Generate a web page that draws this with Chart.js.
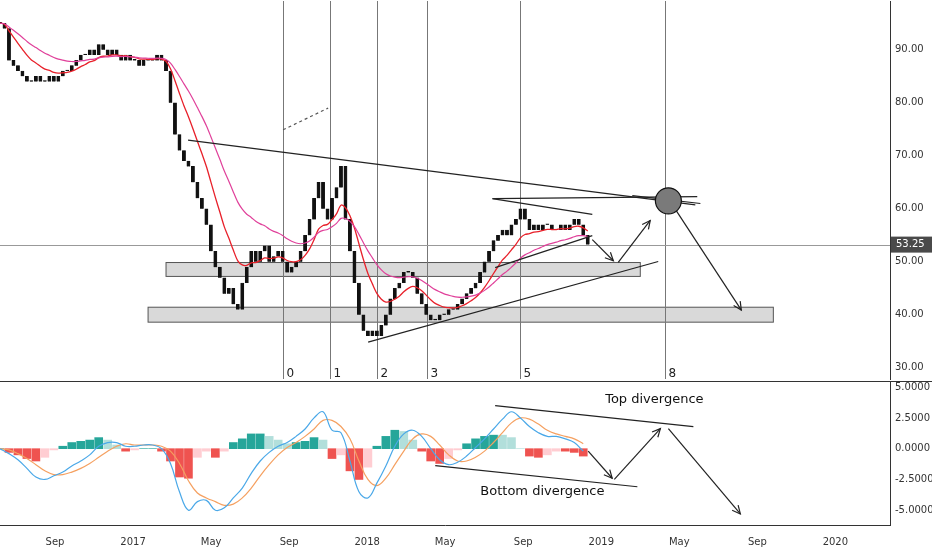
<!DOCTYPE html>
<html>
<head>
<meta charset="utf-8">
<script src="https://cdn.jsdelivr.net/npm/chart.js@4.4.0/dist/chart.umd.min.js"></script>
<style>
  body { margin: 0; background: #fff; overflow: hidden; }
  #main { position: absolute; left: 0; top: -10px; width: 932px; height: 400px; }
  #macd { position: absolute; left: 0; top: 370px; width: 932px; height: 180px; }
</style>
</head>
<body>
<div id="main"><canvas id="mainChart"></canvas></div>
<div id="macd"><canvas id="macdChart"></canvas></div>
<script>
// --- DATA ---
// x axis is in months counted from Jan 2016 (0 = Jan 2016)
const X_MIN = 5.18, X_MAX = 50.8;
const START_MONTH = 5.18;      // first weekly candle (early Jun 2016)
const WEEK = 12 / 52.18;       // one week in months
const MONTH_NAMES = ['Jan','Feb','Mar','Apr','May','Jun','Jul','Aug','Sep','Oct','Nov','Dec'];
const PRICE_TICKS = [30, 40, 50, 60, 70, 80, 90];
const MACD_TICKS = [-5, -2.5, 0, 2.5, 5];

// weekly closes
const closes = [
  95,94,88,87,86,85,84,84,85,84,
  84,85,84,85,86,86,87,88,89,89,
  90,89,91,90,89,90,89,88,89,88,
  88,87,88,88,88,89,88,86,80,74,
  71,69,68,65,62,60,57,52,49,47,
  44,45,42,41,46,49,52,50,52,53,
  50,51,52,50,48,49,50,52,55,58,
  62,65,60,58,62,64,68,58,52,46,
  40,37,36,37,36,38,40,43,45,46,
  48,48,47,44,42,40,39,39,40,40,
  41,41,42,43,44,45,46,48,50,52,
  54,55,56,55,57,58,60,58,56,57,
  56,57,57,56,56,57,56,57,58,57,55,53.25
];
const LAST_PRICE = 53.25;

// MACD pane, one value every two weeks
const macdLine = [0,-0.4,-0.9,-1.6,-2.3,-2.5,-2.2,-1.9,-1.4,-1.0,
  -0.5,0.2,0.5,0.5,0.2,0.2,0.3,0.3,0.0,-1.2,
  -3.5,-5.0,-4.3,-4.2,-5.0,-4.8,-4.0,-3.2,-2.0,-1.0,
  -0.3,0.2,0.5,1.0,1.6,2.5,3.0,1.5,1.3,-1.0,
  -3.5,-4.0,-2.8,-1.4,0.2,1.2,1.5,1.0,0.0,-0.9,
  -1.3,-1.1,-0.6,0.1,0.8,1.6,2.4,3.0,2.5,1.8,
  1.3,1.0,1.0,0.8,0.5,-0.2];
const signalLine = [0,-0.1,-0.4,-0.8,-1.3,-1.8,-2.1,-2.1,-1.9,-1.6,
  -1.2,-0.7,-0.2,0.2,0.4,0.3,0.3,0.3,0.2,-0.2,
  -1.2,-2.6,-3.6,-4.0,-4.3,-4.6,-4.5,-4.0,-3.2,-2.2,
  -1.3,-0.5,0.1,0.5,1.0,1.6,2.3,2.3,1.8,0.8,
  -1.0,-2.5,-3.0,-2.4,-1.3,-0.2,0.8,1.2,1.0,0.3,
  -0.5,-1.0,-1.0,-0.7,-0.2,0.5,1.3,2.1,2.5,2.4,
  2.0,1.5,1.2,1.0,0.8,0.4];

// drawings, in [month, price] / [month, macd]
const wavePoints = [19.69, 22.10, 24.51, 27.08, 31.85, 39.28];
const waveLabels = ['0', '1', '2', '3', '5', '8'];
const trendLines = [
  [[14.82, 72.94], [40.82, 60.75]],
  [[24.05, 34.87], [38.92, 50.06]],
  [[30.41, 61.94], [35.54, 58.94]],
  [[30.56, 48.9], [35.54, 54.94]],
  [[30.46, 61.94], [40.92, 62.3]],
  [[37.59, 62.5], [41.08, 61.0]]
];
const dashedLine = [[19.69, 74.9], [22.0, 79.0]];
const zones = [
  [[13.69, 49.87], [38.00, 47.25]],
  [[12.77, 41.44], [44.82, 38.62]]
];
const circleAt = [39.44, 61.5];
const priceArrows = [
  [[35.54, 54.2], [36.62, 50.2]],
  [[36.87, 49.9], [38.51, 57.8]],
  [[39.85, 59.6], [43.18, 40.9]]
];
const macdTrend = [
  [[30.56, 3.5], [40.72, 1.79]],
  [[27.49, -1.38], [37.85, -3.09]]
];
const macdArrows = [
  [[35.33, -0.2], [36.56, -2.4]],
  [[36.67, -2.5], [39.03, 1.63]],
  [[39.44, 1.63], [43.13, -5.3]]
];

// --- DERIVED SERIES ---
const weekX = closes.map((c, i) => START_MONTH + i * WEEK);
const candles = closes.map((c, i) => ({ x: weekX[i], y: [i ? closes[i - 1] : c, c] }));

function ema(values, n) {
  const k = 2 / (n + 1);
  let prev = values[0];
  return values.map(v => (prev = v * k + prev * (1 - k)));
}
const redMA = ema(closes, 10).map((v, i) => ({ x: weekX[i], y: v }));
const pinkMA = ema(closes, 22).map((v, i) => ({ x: weekX[i], y: v }));

const macdX = macdLine.map((v, i) => START_MONTH + i * 2 * WEEK);
const hist = macdLine.map((v, i) => v - signalLine[i]);
const histColors = hist.map((h, i) => {
  const prev = i ? hist[i - 1] : 0;
  if (h >= 0) return h >= prev ? '#26a69a' : '#b2dfdb';
  return h <= prev ? '#ef5350' : '#ffcdd2';
});

// --- HELPERS ---
const monthLabel = v => {
  const m = Math.round(v);
  return m % 12 === 0 ? String(2016 + m / 12) : MONTH_NAMES[m % 12];
};
const fitY = s => { s.width = 42; };
const setTicks = list => s => { s.ticks = list.map(v => ({ value: v })); };

function seg(ctx, ch, a, b) {
  const x = ch.scales.x, y = ch.scales.y;
  ctx.beginPath();
  ctx.moveTo(x.getPixelForValue(a[0]), y.getPixelForValue(a[1]));
  ctx.lineTo(x.getPixelForValue(b[0]), y.getPixelForValue(b[1]));
  ctx.stroke();
}
function arrow(ctx, ch, a, b) {
  const x = ch.scales.x, y = ch.scales.y;
  const x1 = x.getPixelForValue(a[0]), y1 = y.getPixelForValue(a[1]);
  const x2 = x.getPixelForValue(b[0]), y2 = y.getPixelForValue(b[1]);
  seg(ctx, ch, a, b);
  const ang = Math.atan2(y2 - y1, x2 - x1);
  ctx.beginPath();
  ctx.moveTo(x2 - 9 * Math.cos(ang - 0.45), y2 - 9 * Math.sin(ang - 0.45));
  ctx.lineTo(x2, y2);
  ctx.lineTo(x2 - 9 * Math.cos(ang + 0.45), y2 - 9 * Math.sin(ang + 0.45));
  ctx.stroke();
}

const mainDrawings = {
  id: 'mainDrawings',
  beforeDatasetsDraw(ch) {
    const ctx = ch.ctx, x = ch.scales.x, y = ch.scales.y, area = ch.chartArea;
    ctx.save();
    ctx.fillStyle = '#d9d9d9';
    ctx.strokeStyle = '#555';
    ctx.lineWidth = 1;
    zones.forEach(([a, b]) => {
      const x1 = x.getPixelForValue(a[0]), y1 = y.getPixelForValue(a[1]);
      const x2 = x.getPixelForValue(b[0]), y2 = y.getPixelForValue(b[1]);
      ctx.fillRect(x1, y1, x2 - x1, y2 - y1);
      ctx.strokeRect(x1, y1, x2 - x1, y2 - y1);
    });
    ctx.strokeStyle = '#777';
    ctx.fillStyle = '#222';
    ctx.font = '12px "DejaVu Sans"';
    wavePoints.forEach((m, i) => {
      const px = Math.round(x.getPixelForValue(m)) + 0.5;
      ctx.beginPath(); ctx.moveTo(px, area.top); ctx.lineTo(px, area.bottom); ctx.stroke();
      ctx.fillText(waveLabels[i], px + 3, area.bottom - 2);
    });
    const py = Math.round(y.getPixelForValue(LAST_PRICE)) + 0.5;
    ctx.strokeStyle = '#999';
    ctx.beginPath(); ctx.moveTo(area.left, py); ctx.lineTo(area.right, py); ctx.stroke();
    ctx.restore();
  },
  afterDatasetsDraw(ch) {
    const ctx = ch.ctx, x = ch.scales.x, y = ch.scales.y, area = ch.chartArea;
    ctx.save();
    ctx.strokeStyle = '#222';
    ctx.lineWidth = 1.2;
    trendLines.forEach(([a, b]) => seg(ctx, ch, a, b));
    priceArrows.forEach(([a, b]) => arrow(ctx, ch, a, b));
    ctx.setLineDash([3, 3]);
    ctx.strokeStyle = '#555';
    seg(ctx, ch, dashedLine[0], dashedLine[1]);
    ctx.setLineDash([]);
    ctx.beginPath();
    ctx.arc(x.getPixelForValue(circleAt[0]), y.getPixelForValue(circleAt[1]), 13, 0, Math.PI * 2);
    ctx.fillStyle = '#7a7a7a';
    ctx.fill();
    ctx.strokeStyle = '#111';
    ctx.stroke();
    const py = y.getPixelForValue(LAST_PRICE);
    ctx.fillStyle = '#4a4a4a';
    ctx.fillRect(area.right + 1, py - 8, 41, 16);
    ctx.fillStyle = '#fff';
    ctx.font = '10px "DejaVu Sans"';
    ctx.textBaseline = 'middle';
    ctx.fillText(LAST_PRICE.toFixed(2), area.right + 6, py);
    ctx.restore();
  }
};

const macdDrawings = {
  id: 'macdDrawings',
  afterDatasetsDraw(ch) {
    const ctx = ch.ctx, x = ch.scales.x, y = ch.scales.y, area = ch.chartArea;
    ctx.save();
    ctx.strokeStyle = '#222';
    ctx.lineWidth = 1.2;
    macdTrend.forEach(([a, b]) => seg(ctx, ch, a, b));
    macdArrows.forEach(([a, b]) => arrow(ctx, ch, a, b));
    ctx.fillStyle = '#111';
    ctx.font = '13px "DejaVu Sans"';
    ctx.fillText('Top divergence', x.getPixelForValue(36.2), y.getPixelForValue(3.7));
    ctx.fillText('Bottom divergence', x.getPixelForValue(29.8), y.getPixelForValue(-3.8));
    ctx.strokeStyle = '#333';
    ctx.lineWidth = 1;
    ctx.beginPath(); ctx.moveTo(0, area.top + 0.5); ctx.lineTo(area.right + 42, area.top + 0.5); ctx.stroke();
    ctx.restore();
  }
};

Chart.defaults.font.family = '"DejaVu Sans", sans-serif';
Chart.defaults.font.size = 10;
Chart.defaults.color = '#333';
Chart.defaults.animation = false;

const yTicks = { padding: 5 };
const yGrid = { display: false, drawTicks: false };

new Chart(document.getElementById('mainChart'), {
  type: 'bar',
  data: {
    datasets: [
      { type: 'line', data: pinkMA, borderColor: '#e0409a', borderWidth: 1.2, pointRadius: 0, tension: 0.3 },
      { type: 'line', data: redMA, borderColor: '#e8202a', borderWidth: 1.3, pointRadius: 0, tension: 0.3 },
      { data: candles, backgroundColor: '#111', borderColor: '#111', borderWidth: 0.5, barThickness: 3.2, minBarLength: 1 }
    ]
  },
  options: {
    responsive: true, maintainAspectRatio: false,
    layout: { padding: 0 },
    plugins: { legend: { display: false }, tooltip: { enabled: false } },
    scales: {
      x: { type: 'linear', offset: false, min: X_MIN, max: X_MAX, display: false },
      y: {
        position: 'right', min: 27.9, max: 99.2, afterFit: fitY,
        afterBuildTicks: setTicks(PRICE_TICKS),
        grid: yGrid, border: { color: '#333' },
        ticks: { ...yTicks, callback: v => v.toFixed(2) }
      }
    }
  },
  plugins: [mainDrawings]
});

new Chart(document.getElementById('macdChart'), {
  type: 'bar',
  data: {
    datasets: [
      { type: 'line', data: macdLine.map((v, i) => ({ x: macdX[i], y: v })), borderColor: '#4aa8e8', borderWidth: 1.2, pointRadius: 0, tension: 0.4 },
      { type: 'line', data: signalLine.map((v, i) => ({ x: macdX[i], y: v })), borderColor: '#f5a060', borderWidth: 1.2, pointRadius: 0, tension: 0.4 },
      { data: hist.map((v, i) => ({ x: macdX[i], y: v })), backgroundColor: histColors, barThickness: 8 }
    ]
  },
  options: {
    responsive: true, maintainAspectRatio: false,
    layout: { padding: 0 },
    plugins: { legend: { display: false }, tooltip: { enabled: false } },
    scales: {
      x: {
        type: 'linear', offset: false, min: X_MIN, max: X_MAX,
        grid: { display: false }, border: { color: '#333' },
        afterFit: s => { s.height = 25; },
        afterBuildTicks: setTicks([8, 12, 16, 20, 24, 28, 32, 36, 40, 44, 48]),
        ticks: { maxRotation: 0, autoSkip: false, callback: v => monthLabel(v) }
      },
      y: {
        position: 'right', min: -6.2, max: 5.5, afterFit: fitY,
        afterBuildTicks: setTicks(MACD_TICKS),
        grid: yGrid, border: { color: '#333' },
        ticks: { ...yTicks, callback: v => v.toFixed(4) }
      }
    }
  },
  plugins: [macdDrawings]
});
</script>
</body>
</html>
